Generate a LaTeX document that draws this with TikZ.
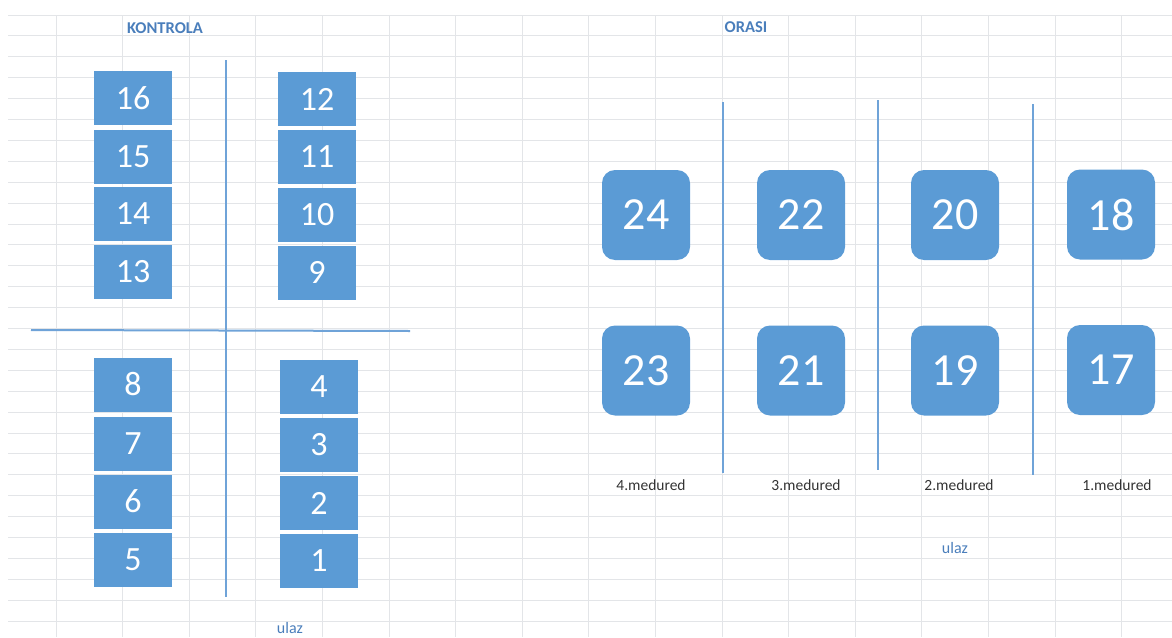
\documentclass[tikz,border=0pt]{standalone}
\usepackage{fontspec}
\setmainfont{Carlito}
\usetikzlibrary{calc}
\definecolor{seatfill}{HTML}{5B9BD5}
\definecolor{dividerstroke}{HTML}{6FA3D8}
\definecolor{gridstroke}{HTML}{E3E5E8}
\definecolor{titletext}{HTML}{4A7EBB}
\definecolor{rowtext}{HTML}{333333}
\tikzset{
  smallseat/.style={
    rectangle, fill=seatfill, minimum width=78pt, minimum height=54pt,
    inner sep=0pt, text=white, font=\fontsize{34}{34}\selectfont
  },
  bigseat/.style={
    rectangle, rounded corners=13pt, fill=seatfill, minimum width=88pt,
    minimum height=90pt, inner sep=0pt, text=white,
    font=\fontsize{46}{46}\selectfont
  },
  divider/.style={draw=dividerstroke, line width=2pt},
  gridline/.style={draw=gridstroke, line width=0.9pt},
  heading/.style={text=titletext, inner sep=0pt, font=\fontsize{16.5}{16.5}\selectfont\bfseries},
  rowlabel/.style={text=rowtext, inner sep=0pt, font=\fontsize{15.5}{15.5}\selectfont},
  doorlabel/.style={text=titletext, inner sep=0pt, font=\fontsize{16}{16}\selectfont}
}

\begin{document}
\begin{tikzpicture}[x=1pt,y=-1pt]
  \useasboundingbox (0,0) rectangle (1172,637);
  \clip (0,0) rectangle (1172,637);

  % spreadsheet grid behind everything
  \foreach \k in {0,...,29}
    \draw[gridline] (8,15+20.9*\k) -- (1172,15+20.9*\k);
  \foreach \k in {0,...,16}
    \draw[gridline] (56+66.6*\k,15) -- (56+66.6*\k,637);

  % left room: control group
  \node[heading] (kontrola) at (165,28) {KONTROLA};
  \node[smallseat] (s16) at (133,98) {16};
  \node[smallseat] (s15) at (133,156.5) {15};
  \node[smallseat] (s14) at (133,213.5) {14};
  \node[smallseat] (s13) at (133,271.5) {13};
  \node[smallseat] (s12) at (317,99) {12};
  \node[smallseat] (s11) at (317,157) {11};
  \node[smallseat] (s10) at (317,215) {10};
  \node[smallseat] (s9) at (317,272.5) {9};
  \node[smallseat] (s8) at (133,384.5) {8};
  \node[smallseat] (s7) at (133,443.5) {7};
  \node[smallseat] (s6) at (133,501.5) {6};
  \node[smallseat] (s5) at (133,560) {5};
  \node[smallseat] (s4) at (319,387) {4};
  \node[smallseat] (s3) at (319,445) {3};
  \node[smallseat] (s2) at (319,503) {2};
  \node[smallseat] (s1) at (319,561) {1};
  \draw[divider] (226,60) -- (226,597);
  \draw[divider] (31,330) -- (410,331);
  \node[doorlabel] (ulazleft) at (290,628) {ulaz};

  % right room: rows of the orchard
  \node[heading] (orasi) at (746,27) {ORASI};
  \node[bigseat] (s24) at (646,215) {24};
  \node[bigseat] (s22) at (801,215) {22};
  \node[bigseat] (s20) at (955,215) {20};
  \node[bigseat] (s18) at (1111,214.5) {18};
  \node[bigseat] (s23) at (646,370.5) {23};
  \node[bigseat] (s21) at (801,370.5) {21};
  \node[bigseat] (s19) at (955,370.5) {19};
  \node[bigseat] (s17) at (1111,370) {17};
  \draw[divider] (723,102) -- (723,473);
  \draw[divider] (878,100) -- (878,470);
  \draw[divider] (1033,104) -- (1033,475);

  \node[rowlabel] (row4) at (651,485) {4.medured};
  \node[rowlabel] (row3) at (806,485) {3.medured};
  \node[rowlabel] (row2) at (959,485) {2.medured};
  \node[rowlabel] (row1) at (1117,485) {1.medured};
  \node[doorlabel] (ulazright) at (955,548) {ulaz};
\end{tikzpicture}
\end{document}
